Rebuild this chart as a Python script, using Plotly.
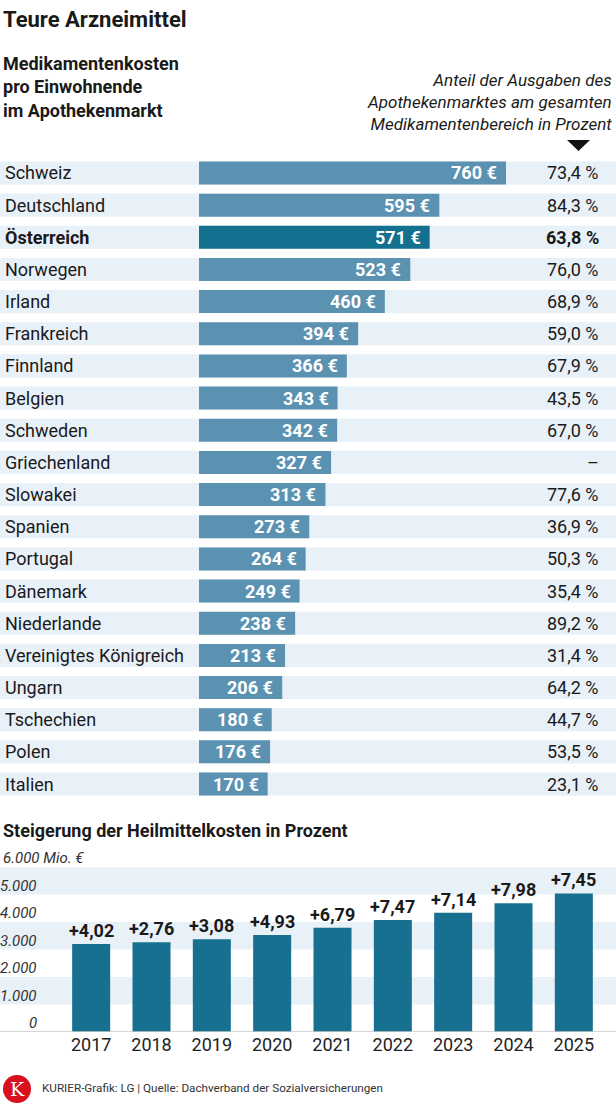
import plotly.graph_objects as go

W, H = 616, 1113
FONT = "Roboto"


def py(p):
    return 1 - p / H


def px(p):
    return p / W


# ---------------- data ----------------
countries = ["Schweiz", "Deutschland", "Österreich", "Norwegen", "Irland", "Frankreich",
             "Finnland", "Belgien", "Schweden", "Griechenland", "Slowakei", "Spanien",
             "Portugal", "Dänemark", "Niederlande", "Vereinigtes Königreich", "Ungarn",
             "Tschechien", "Polen", "Italien"]
costs = [760, 595, 571, 523, 460, 394, 366, 343, 342, 327, 313, 273, 264, 249, 238,
         213, 206, 180, 176, 170]
shares = [73.4, 84.3, 63.8, 76.0, 68.9, 59.0, 67.9, 43.5, 67.0, None, 77.6, 36.9,
          50.3, 35.4, 89.2, 31.4, 64.2, 44.7, 53.5, 23.1]
highlight = "Österreich"

years = ["2017", "2018", "2019", "2020", "2021", "2022", "2023", "2024", "2025"]
spending = [3200, 3260, 3370, 3530, 3790, 4070, 4340, 4680, 5040]
growth = [4.02, 2.76, 3.08, 4.93, 6.79, 7.47, 7.14, 7.98, 7.45]
y_ticks = [0, 1000, 2000, 3000, 4000, 5000]

# ---------------- styles ----------------
BAND = "#e8f0f8"
BAR = "#5b92b2"
BAR_HI = "#14708f"
BAR2 = "#17708f"
TXT = "#1a1a1a"


def de(v, nd=1):
    return f"{v:.{nd}f}".replace(".", ",")


xpos = list(range(len(years)))

fig = go.Figure()

fig.add_trace(go.Bar(
    x=costs, y=countries, orientation="h",
    marker=dict(color=[BAR_HI if c == highlight else BAR for c in countries], line=dict(width=0)),
    width=0.715, xaxis="x", yaxis="y", hoverinfo="skip", showlegend=False,
))

fig.add_trace(go.Bar(
    x=xpos, y=spending, marker=dict(color=BAR2, line=dict(width=0)),
    width=0.63, xaxis="x2", yaxis="y2", hoverinfo="skip", showlegend=False,
))

shapes = []
annotations = []

# row bands
for i in range(len(countries)):
    shapes.append(dict(type="rect", xref="paper", yref="y", x0=0, x1=1,
                       y0=i - 0.36, y1=i + 0.36, fillcolor=BAND, line=dict(width=0),
                       layer="below"))

for c, v, s in zip(countries, costs, shares):
    bold = c == highlight
    annotations.append(dict(xref="paper", yref="y", x=px(3), y=c, xanchor="left",
                            yanchor="middle", showarrow=False,
                            text=f"<b>{c}</b>" if bold else c,
                            font=dict(family=FONT, size=18, color=TXT)))
    annotations.append(dict(xref="x", yref="y", x=v, y=c, xanchor="right",
                            yanchor="middle", xshift=-7, showarrow=False,
                            text=f"<b>{v} €</b>",
                            font=dict(family=FONT, size=18, color="white")))
    stxt = "–" if s is None else f"{de(s)} %"
    annotations.append(dict(xref="paper", yref="y", x=px(601), y=c, xanchor="right",
                            yanchor="middle", showarrow=False,
                            text=f"<b>{stxt}</b>" if bold else stxt,
                            font=dict(family=FONT, size=18, color=TXT)))

# bottom chart bands
for lo in [1000, 3000, 5000]:
    shapes.append(dict(type="rect", xref="paper", yref="y2", x0=0, x1=1,
                       y0=lo, y1=lo + 1000, fillcolor=BAND, line=dict(width=0),
                       layer="below"))
shapes.append(dict(type="line", xref="paper", yref="y2", x0=0, x1=1, y0=0, y1=0,
                   line=dict(color="#c8c8c8", width=1.5)))

for t in y_ticks:
    lab = f"{t:,}".replace(",", ".")
    annotations.append(dict(xref="paper", yref="y2", x=px(39), y=t, xanchor="right",
                            yanchor="middle", yshift=9, showarrow=False,
                            text=f"<i>{lab}</i>",
                            font=dict(family=FONT, size=15, color="#333")))
annotations.append(dict(xref="paper", yref="y2", x=px(1), y=6000, xanchor="left",
                        yanchor="middle", yshift=9, showarrow=False,
                        text="<i>6.000 Mio. €</i>",
                        font=dict(family=FONT, size=15, color="#333")))

for xp, v, g in zip(xpos, spending, growth):
    annotations.append(dict(xref="x2", yref="y2", x=xp, y=v, xanchor="center",
                            yanchor="bottom", yshift=1, showarrow=False,
                            text=f"<b>+{de(g, 2)}</b>",
                            font=dict(family=FONT, size=18, color=TXT)))

# titles
annotations += [
    dict(xref="paper", yref="paper", x=px(1), y=py(20), xanchor="left", yanchor="middle",
         showarrow=False, text="<b>Teure Arzneimittel</b>",
         font=dict(family=FONT, size=22, color=TXT)),
    dict(xref="paper", yref="paper", x=px(1), y=py(51), xanchor="left", yanchor="top",
         showarrow=False, align="left",
         text="<b>Medikamentenkosten<br>pro Einwohnende<br>im Apothekenmarkt</b>",
         font=dict(family=FONT, size=18, color=TXT)),
    dict(xref="paper", yref="paper", x=px(614), y=py(68), xanchor="right", yanchor="top",
         showarrow=False, align="right",
         text="<i>Anteil der Ausgaben des<br>Apothekenmarktes am gesamten<br>Medikamentenbereich in Prozent</i>",
         font=dict(family=FONT, size=17, color=TXT)),
    dict(xref="paper", yref="paper", x=px(1), y=py(830), xanchor="left", yanchor="middle",
         showarrow=False, text="<b>Steigerung der Heilmittelkosten in Prozent</b>",
         font=dict(family=FONT, size=18, color=TXT)),
    dict(xref="paper", yref="paper", x=px(40), y=py(1088), xanchor="left", yanchor="middle",
         showarrow=False,
         text="KURIER-Grafik: LG | Quelle: Dachverband der Sozialversicherungen",
         font=dict(family=FONT, size=11.7, color="#333")),
    dict(xref="paper", yref="paper", x=px(17), y=py(1089), xanchor="center", yanchor="middle",
         showarrow=False, text="K",
         font=dict(family="DejaVu Serif", size=19, color="white")),
]

# triangle marker and logo circle
shapes.append(dict(type="path", xref="paper", yref="paper",
                   path=f"M {px(567)} {py(140)} L {px(590)} {py(140)} L {px(578.5)} {py(151)} Z",
                   fillcolor="#111", line=dict(width=0)))
shapes.append(dict(type="circle", xref="paper", yref="paper",
                   x0=px(3), x1=px(31), y0=py(1103), y1=py(1075),
                   fillcolor="#d9101e", line=dict(width=0)))

scale = 0.40395  # px per euro
fig.update_layout(
    width=W, height=H, margin=dict(l=0, r=0, t=0, b=0, autoexpand=False),
    paper_bgcolor="white", plot_bgcolor="rgba(0,0,0,0)",
    font=dict(family=FONT, color=TXT),
    xaxis=dict(domain=[px(199), 1], range=[0, (W - 199) / scale], visible=False,
               fixedrange=True, automargin=False),
    yaxis=dict(domain=[py(800.1), py(156.9)], type="category", categoryorder="array",
               categoryarray=countries, range=[len(countries) - 0.5, -0.5], visible=False,
               fixedrange=True, automargin=False),
    xaxis2=dict(domain=[px(61), px(604)], anchor="y2", range=[-0.5, len(years) - 0.5],
                tickmode="array", tickvals=xpos, ticktext=years, showgrid=False,
                showline=False, ticks="", zeroline=False, automargin=False,
                tickfont=dict(family=FONT, size=18, color="#222"), fixedrange=True),
    yaxis2=dict(domain=[py(1032), py(867)], range=[0, 6000], anchor="x2",
                showticklabels=False, showgrid=False, zeroline=False, fixedrange=True,
                automargin=False),
    shapes=shapes, annotations=annotations, showlegend=False,
)

fig.write_html("out.html")
